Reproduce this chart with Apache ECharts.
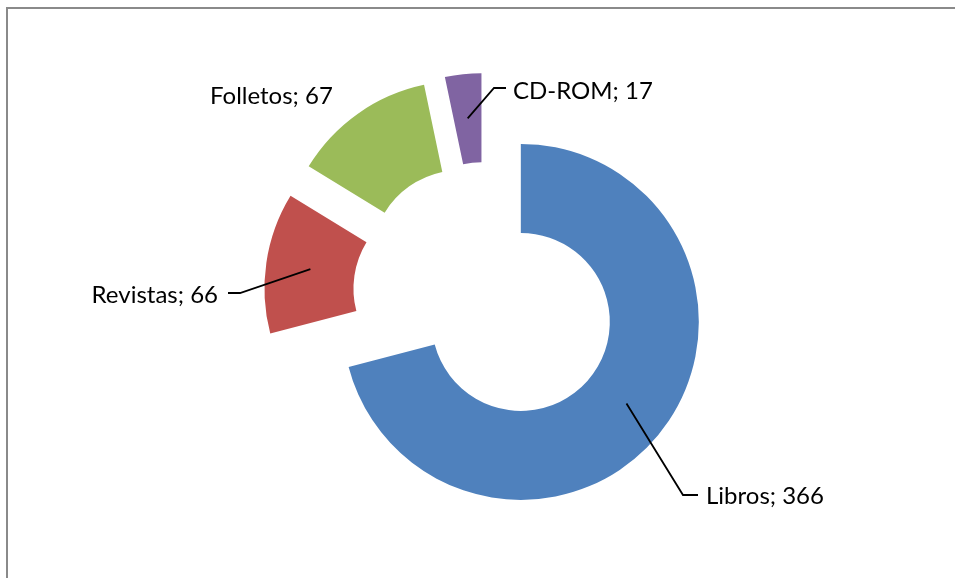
<!DOCTYPE html>
<html>
<head>
<meta charset="utf-8">
<script src="https://cdn.jsdelivr.net/npm/echarts@6/dist/echarts.min.js"></script>
<style>
  html, body { margin: 0; padding: 0; background: #fff; }
  #chart { width: 955px; height: 578px; }
</style>
</head>
<body>
<div id="chart"></div>
<script>
const categories = ['Libros', 'Revistas', 'Folletos', 'CD-ROM'];
const values = [366, 66, 67, 17];
const colors = ['#4F81BD', '#C0504D', '#9BBB59', '#8064A2'];

// ring geometry
const CX = 486, CY = 295, R = 178, R0 = 89, OFFSET = 44;

// where each label goes (text anchor + leader elbow)
const labelSpots = [
  { x: 706, y: 496, align: 'left', elbow: [683, 495], end: [698, 495] },
  { x: 218, y: 295, align: 'right', elbow: [240, 293], end: [228, 293] },
  { x: 210, y: 96, align: 'left' },
  { x: 513, y: 91, align: 'left', elbow: [494, 88], end: [506, 88] }
];

const total = values.reduce((a, b) => a + b, 0);
let acc = 0;
const midAngles = values.map((v) => {
  const m = ((acc + v / 2) / total) * Math.PI * 2;
  acc += v;
  return m;
});

// leader starts at the middle of the (exploded) slice
const sliceMiddle = (i) => {
  const d = OFFSET + (R + R0) / 2;
  return [CX + Math.sin(midAngles[i]) * d, CY - Math.cos(midAngles[i]) * d];
};

const base = {
  type: 'pie',
  center: [CX, CY],
  radius: [R0, R],
  startAngle: 90,
  clockwise: true,
  avoidLabelOverlap: false,
  emphasis: { disabled: true },
  silent: true
};

const chart = echarts.init(document.getElementById('chart'));
chart.setOption({
  animation: false,
  graphic: [
    {
      type: 'rect',
      shape: { x: 7, y: 8, width: 1200, height: 1200 },
      style: { fill: 'none', stroke: '#8a8a8a', lineWidth: 2 },
      silent: true
    }
  ],
  series: [
    // exploded ring
    Object.assign({}, base, {
      z: 2,
      selectedMode: 'multiple',
      selectedOffset: OFFSET,
      select: { itemStyle: { borderWidth: 0 } },
      label: { show: false },
      labelLine: { show: false },
      data: categories.map((name, i) => ({
        name,
        value: values[i],
        selected: true,
        itemStyle: { color: colors[i] }
      }))
    }),
    // invisible copy that carries the data labels
    Object.assign({}, base, {
      z: 5,
      itemStyle: { color: 'rgba(0,0,0,0)' },
      label: {
        show: true,
        position: 'outside',
        formatter: (p) => p.name + '; ' + p.value,
        color: '#000',
        fontFamily: 'Lato',
        fontSize: 24
      },
      labelLine: { show: true, lineStyle: { color: '#000', width: 1.8 } },
      labelLayout: (params) => {
        const s = labelSpots[params.dataIndex];
        const out = { x: s.x, y: s.y, align: s.align, verticalAlign: 'middle' };
        if (s.elbow) out.labelLinePoints = [sliceMiddle(params.dataIndex), s.elbow, s.end];
        return out;
      },
      data: categories.map((name, i) => ({
        name,
        value: values[i],
        labelLine: { show: !!labelSpots[i].elbow }
      }))
    })
  ]
});
</script>
</body>
</html>
